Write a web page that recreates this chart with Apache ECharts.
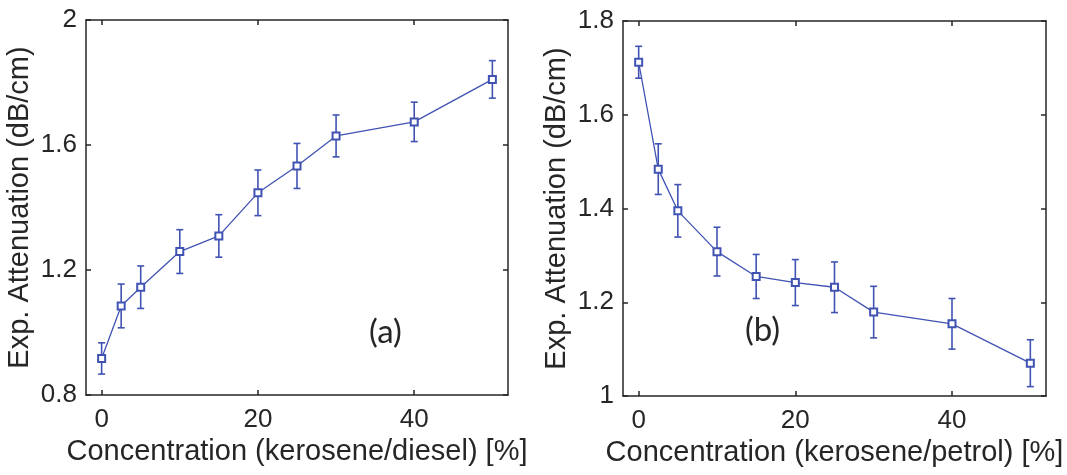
<!DOCTYPE html>
<html>
<head>
<meta charset="utf-8">
<style>
  html, body { margin: 0; padding: 0; background: #fff; }
  #chart { width: 1067px; height: 475px; }
</style>
<script src="https://cdn.jsdelivr.net/npm/echarts@6/dist/echarts.min.js"></script>
</head>
<body>
<div id="chart"></div>
<script>
// concentration of kerosene (%)
const conc = [0, 2.5, 5, 10, 15, 20, 25, 30, 40, 50];
// (a) kerosene in diesel
const diesel = [0.917, 1.085, 1.145, 1.259, 1.309, 1.447, 1.533, 1.629, 1.674, 1.81];
const dieselErr = [0.05, 0.07, 0.068, 0.07, 0.068, 0.073, 0.072, 0.067, 0.063, 0.06];
// (b) kerosene in petrol
const petrol = [1.712, 1.484, 1.395, 1.308, 1.255, 1.242, 1.232, 1.179, 1.154, 1.07];
const petrolErr = [0.034, 0.054, 0.056, 0.052, 0.047, 0.049, 0.054, 0.055, 0.054, 0.05];
const xTicks = [0, 20, 40];

const ink = '#262626';
const blue = '#4053b3';
const font = "'Liberation Sans', Arial, sans-serif";

const chart = echarts.init(document.getElementById('chart'));

function xAx (grid, name, mirror) {
  return {
    type: 'value',
    gridIndex: grid,
    position: mirror ? 'top' : 'bottom',
    min: -2,
    max: 52,
    name: mirror ? '' : name,
    nameLocation: 'middle',
    nameGap: 40,
    nameTextStyle: { color: ink, fontSize: 29, fontFamily: font },
    axisLine: { show: true, onZero: false, lineStyle: { color: ink, width: 1.5 } },
    axisTick: { show: true, inside: true, length: 5, customValues: xTicks, lineStyle: { color: ink, width: 1.5 } },
    axisLabel: { show: !mirror, customValues: xTicks, color: ink, fontSize: 26, fontFamily: font, margin: 12 },
    splitLine: { show: false },
  };
}

function yAx (grid, min, max, step, mirror) {
  return {
    type: 'value',
    gridIndex: grid,
    position: mirror ? 'right' : 'left',
    min: min,
    max: max,
    interval: step,
    name: mirror ? '' : 'Exp. Attenuation (dB/cm)',
    nameLocation: 'middle',
    nameGap: 52,
    nameTextStyle: { color: ink, fontSize: 29, fontFamily: font },
    axisLine: { show: true, onZero: false, lineStyle: { color: ink, width: 1.5 } },
    axisTick: { show: true, inside: true, length: 5, lineStyle: { color: ink, width: 1.5 } },
    axisLabel: { show: !mirror, color: ink, fontSize: 26, fontFamily: font, margin: 9 },
    splitLine: { show: false },
  };
}

// vertical error bar with caps
function errorBar (params, api) {
  const x = api.value(0);
  const lo = api.coord([x, api.value(1)]);
  const hi = api.coord([x, api.value(2)]);
  const w = 3.5;
  const style = { stroke: blue, lineWidth: 1.6 };
  return {
    type: 'group',
    children: [
      { type: 'line', shape: { x1: lo[0], y1: lo[1], x2: hi[0], y2: hi[1] }, style: style },
      { type: 'line', shape: { x1: lo[0] - w, y1: lo[1], x2: lo[0] + w, y2: lo[1] }, style: style },
      { type: 'line', shape: { x1: hi[0] - w, y1: hi[1], x2: hi[0] + w, y2: hi[1] }, style: style },
    ],
  };
}

function seriesFor (idx, vals, errs) {
  return [
    {
      type: 'custom',
      xAxisIndex: idx * 2,
      yAxisIndex: idx * 2,
      renderItem: errorBar,
      data: conc.map((c, i) => [c, vals[i] - errs[i], vals[i] + errs[i]]),
      z: 2,
    },
    {
      type: 'line',
      xAxisIndex: idx * 2,
      yAxisIndex: idx * 2,
      data: conc.map((c, i) => [c, vals[i]]),
      symbol: 'emptyRect',
      symbolSize: 7,
      lineStyle: { color: blue, width: 1.3 },
      itemStyle: { color: blue, borderWidth: 1 },
      z: 3,
    },
  ];
}

chart.setOption({
  animation: false,
  backgroundColor: '#fff',
  grid: [
    { left: 86, right: 559, top: 20, bottom: 80 },
    { left: 623, right: 21, top: 21, bottom: 79 },
  ],
  xAxis: [
    xAx(0, 'Concentration (kerosene/diesel) [%]', false),
    xAx(0, '', true),
    xAx(1, 'Concentration (kerosene/petrol) [%]', false),
    xAx(1, '', true),
  ],
  yAxis: [
    yAx(0, 0.8, 2, 0.4, false),
    yAx(0, 0.8, 2, 0.4, true),
    yAx(1, 1, 1.8, 0.2, false),
    yAx(1, 1, 1.8, 0.2, true),
  ],
  graphic: [
    { type: 'text', left: 369, top: 316, style: { text: '(a)', fill: ink, fontSize: 33, fontFamily: 'Lato, sans-serif' } },
    { type: 'text', left: 745, top: 314, style: { text: '(b)', fill: ink, fontSize: 33, fontFamily: 'Lato, sans-serif' } },
  ],
  series: [].concat(seriesFor(0, diesel, dieselErr), seriesFor(1, petrol, petrolErr)),
});
</script>
</body>
</html>
